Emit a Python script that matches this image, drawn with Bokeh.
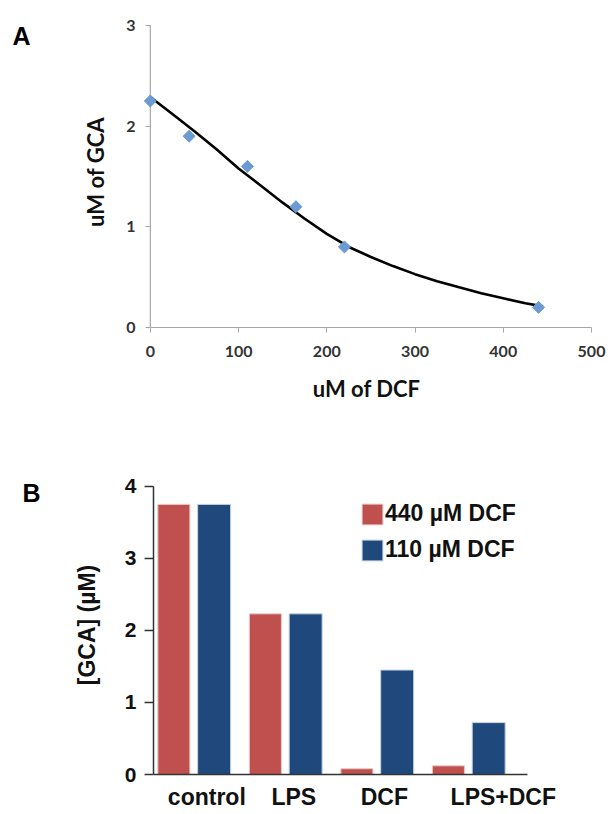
import math
from bokeh.plotting import figure
from bokeh.layouts import column, row
from bokeh.models import (Range1d, FixedTicker, Label, Legend, LegendItem,
                          ColumnDataSource)
from bokeh.embed import file_html
from bokeh.resources import INLINE

# ---------------- Panel A data ----------------
dcf_um = [0, 44, 110, 165, 220, 440]
gca_um = [2.25, 1.90, 1.60, 1.20, 0.80, 0.20]
fit_x = [0, 25, 50, 75, 100, 125, 150, 175, 200, 225, 250, 275, 300, 325, 350, 375, 400, 425, 445]
fit_y = [2.29, 2.12, 1.95, 1.77, 1.58, 1.41, 1.24, 1.08, 0.93, 0.80, 0.70, 0.61, 0.53, 0.46, 0.40, 0.34, 0.29, 0.24, 0.21]
a_xticks = [0, 100, 200, 300, 400, 500]
a_yticks = [0, 1, 2, 3]

# ---------------- Panel B data ----------------
groups = ["control", "LPS", "DCF", "LPS+DCF"]
dcf440 = [3.75, 2.23, 0.08, 0.12]
dcf110 = [3.75, 2.23, 1.45, 0.72]
series_labels = ["440 µM DCF", "110 µM DCF"]
b_yticks = [0, 1, 2, 3, 4]

AX_FONT = "Lato"
B_FONT = "Liberation Sans"
LETTER_W = 44


def letter_fig(text, height, top, bottom, x, y):
    # frame of this small figure is aligned with the neighbouring plot's frame
    f = figure(width=LETTER_W, height=height, x_range=Range1d(0, 1), y_range=Range1d(0, 1),
               x_axis_location=None, y_axis_location=None,
               output_backend="svg", toolbar_location=None,
               min_border_left=0, min_border_right=0, min_border_top=top,
               min_border_bottom=bottom)
    f.title.visible = False
    f.outline_line_color = None
    f.grid.visible = False
    f.add_layout(Label(x=x, y=y, x_units="screen", y_units="screen",
                       text=text, text_font=B_FONT, text_font_style="bold",
                       text_font_size="25px", text_baseline="alphabetic", text_color="black"))
    return f


# ================= Panel A =================
A_TOP, A_BOTTOM = 16, 93
pA = figure(width=608 - LETTER_W, height=420, x_range=Range1d(-10, 500),
            y_range=Range1d(0, 3.089),
            output_backend="svg", toolbar_location=None,
            min_border_left=97, min_border_right=17, min_border_top=A_TOP,
            min_border_bottom=A_BOTTOM)
pA.outline_line_color = None
pA.xgrid.visible = False
pA.ygrid.visible = False

# y-axis line at x = 0, spanning the tick range
pA.segment(x0=[0], y0=[a_yticks[0]], x1=[0], y1=[a_yticks[-1]],
           line_color="#a6a6a6", line_width=1.2)
pA.line(fit_x, fit_y, line_color="black", line_width=2.6)
pA.scatter(dcf_um, gca_um, marker="square", angle=math.pi / 4, size=8.5,
           fill_color="#6b9bd2", line_color="#6b9bd2")

xa = pA.xaxis[0]
xa.bounds = (0, 500)
xa.ticker = FixedTicker(ticks=a_xticks)
xa.axis_line_color = "#a6a6a6"
xa.axis_line_width = 1.2
xa.major_tick_line_color = "#a6a6a6"
xa.major_tick_out = 5
xa.major_tick_in = 0
xa.axis_label = "uM of DCF"
xa.major_label_standoff = 13
xa.axis_label_standoff = 15

ya = pA.yaxis[0]
ya.bounds = (0, 3)
ya.ticker = FixedTicker(ticks=a_yticks)
ya.axis_line_color = None
ya.major_tick_line_color = "#a6a6a6"
ya.major_tick_line_width = 1.2
ya.major_tick_in = 9
ya.major_tick_out = -4
ya.major_label_standoff = 6
ya.axis_label = "uM of GCA"
ya.axis_label_standoff = 14

for ax in (xa, ya):
    ax.minor_tick_line_color = None
    ax.major_label_text_font = AX_FONT
    ax.major_label_text_font_style = "bold"
    ax.major_label_text_font_size = "16px"
    ax.major_label_text_color = "#333333"
    ax.axis_label_text_font = AX_FONT
    ax.axis_label_text_font_style = "bold"
    ax.axis_label_text_font_size = "22px"
    ax.axis_label_text_color = "#111111"

# ================= Panel B =================
B_TOP, B_BOTTOM = 55, 35
pB = figure(width=608 - LETTER_W, height=392, x_range=Range1d(-0.4426, 4.42),
            y_range=Range1d(0, 4.151),
            output_backend="svg", toolbar_location=None,
            min_border_left=109, min_border_right=10, min_border_top=B_TOP,
            min_border_bottom=B_BOTTOM)
pB.outline_line_color = None
pB.xgrid.visible = False
pB.ygrid.visible = False

idx = list(range(len(groups)))
src = ColumnDataSource(dict(
    x440=[i - 0.22 for i in idx], x110=[i + 0.22 for i in idx],
    v440=dcf440, v110=dcf110))
r1 = pB.vbar(x="x440", top="v440", bottom=0, width=0.35, source=src,
             fill_color="#c0504d", line_color="#e8c8c7", line_width=1)
r2 = pB.vbar(x="x110", top="v110", bottom=0, width=0.36, source=src,
             fill_color="#1f497d", line_color="#c5d0de", line_width=1)

legend = Legend(items=[LegendItem(label=series_labels[0], renderers=[r1]),
                       LegendItem(label=series_labels[1], renderers=[r2])],
                location=(206, 211), orientation="vertical")
legend.glyph_width = 26
legend.glyph_height = 26
legend.label_standoff = 0
legend.label_text_font = B_FONT
legend.label_text_font_style = "bold"
legend.label_text_font_size = "23px"
legend.label_text_color = "#111111"
legend.spacing = 9
legend.padding = 0
legend.margin = 0
legend.border_line_alpha = 0
legend.background_fill_alpha = 0
pB.add_layout(legend)

label_shift = [0.14, 0.09, 0.08, 0.38]
xb = pB.xaxis[0]
xb.bounds = (-0.4426, 3.645)
xb.ticker = FixedTicker(ticks=[i + s for i, s in zip(idx, label_shift)])
xb.major_label_overrides = {i + s: g for i, s, g in zip(idx, label_shift, groups)}
xb.major_tick_line_color = None
xb.major_tick_out = 0
xb.major_tick_in = 0
xb.minor_tick_line_color = None
xb.major_label_standoff = 9

yb = pB.yaxis[0]
yb.bounds = (0, 4)
yb.ticker = FixedTicker(ticks=b_yticks)
yb.major_tick_out = 9
yb.major_tick_in = 0
yb.minor_tick_line_color = None
yb.major_label_standoff = 8
yb.axis_label = "[GCA] (µM)"
yb.axis_label_standoff = 22
for ax in (xb, yb):
    ax.axis_line_color = "#333333"
    ax.axis_line_width = 1.5
    ax.major_label_text_font = B_FONT
    ax.major_label_text_font_style = "bold"
    ax.major_label_text_color = "#111111"
    ax.axis_label_text_font = B_FONT
    ax.axis_label_text_font_style = "bold"
    ax.axis_label_text_font_size = "23px"
    ax.axis_label_text_color = "#111111"
yb.major_tick_line_color = "#333333"
yb.major_tick_line_width = 1.5
xb.major_label_text_font_size = "23px"
yb.major_label_text_font_size = "21px"

# letters: baseline y measured from the (aligned) frame bottom
letterA = letter_fig("A", 420, A_TOP, A_BOTTOM, 12, 292)
letterB = letter_fig("B", 392, B_TOP, B_BOTTOM, 22, 282)

layout = column(row(letterA, pA, spacing=0), row(letterB, pB, spacing=0), spacing=0)
open("out.html", "w").write(file_html(layout, INLINE))
